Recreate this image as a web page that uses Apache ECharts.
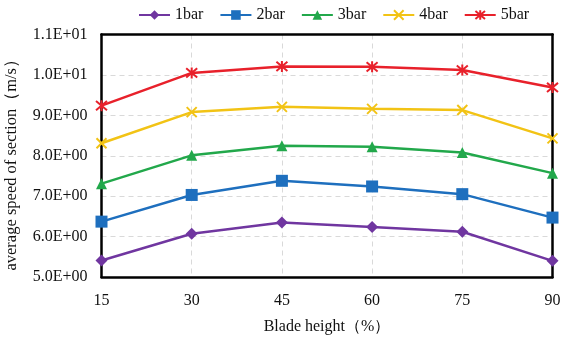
<!DOCTYPE html>
<html>
<head>
<meta charset="utf-8">
<script src="https://cdn.jsdelivr.net/npm/echarts@6/dist/echarts.min.js"></script>
<style>
html,body{margin:0;padding:0;background:#fff;}
#c{width:566px;height:337px;}
</style>
</head>
<body>
<div id="c"></div>
<script>
const categories = ['15', '30', '45', '60', '75', '90'];
const seriesNames = ['1bar', '2bar', '3bar', '4bar', '5bar'];
const bar1 = [5.41, 6.07, 6.35, 6.24, 6.12, 5.40];
const bar2 = [6.37, 7.03, 7.38, 7.24, 7.05, 6.47];
const bar3 = [7.31, 8.01, 8.25, 8.22, 8.08, 7.57];
const bar4 = [8.31, 9.08, 9.21, 9.16, 9.13, 8.43];
const bar5 = [9.24, 10.05, 10.21, 10.20, 10.12, 9.69];
const yTickLabels = ['5.0E+00', '6.0E+00', '7.0E+00', '8.0E+00', '9.0E+00', '1.0E+01', '1.1E+01'];
const xTitle = 'Blade height（%）';
const yTitle = 'average speed of section（m/s）';

const colors = ['#7036A0', '#1E6FBE', '#22A84B', '#F2C315', '#E8212B'];
const symbols = [
  'diamond',
  'rect',
  'triangle',
  'path://M0 0L10 10M10 0L0 10',
  'path://M0 0L10 10M10 0L0 10M5 -1L5 11'
];
const sizes = [12, 12, 11, 10, 11];
const data = [bar1, bar2, bar3, bar4, bar5];
const font = 'Liberation Serif';
const txt = '#111';

const chart = echarts.init(document.getElementById('c'), null, {renderer: 'canvas'});
const frameAxis = {
  axisLine: {show: true, lineStyle: {color: '#000', width: 2.5}},
  axisTick: {show: false},
  axisLabel: {show: false},
  splitLine: {show: false}
};
chart.setOption({
  animation: false,
  backgroundColor: '#fff',
  textStyle: {fontFamily: font, color: txt},
  legend: {
    top: 2,
    left: 133,
    itemWidth: 31,
    itemHeight: 12,
    itemGap: 16,
    textStyle: {fontFamily: font, fontSize: 16, color: txt},
    data: seriesNames
  },
  grid: {
    left: 101.5, right: 13.5, top: 34.5, bottom: 60,
    show: false, containLabel: false, outerBoundsMode: 'none'
  },
  xAxis: [{
    type: 'category',
    data: categories,
    boundaryGap: false,
    name: xTitle,
    nameLocation: 'middle',
    nameGap: 42,
    nameTextStyle: {fontFamily: font, fontSize: 16, color: txt},
    axisLine: {show: true, lineStyle: {color: '#000', width: 2.5}},
    axisTick: {show: false},
    axisLabel: {margin: 16, fontFamily: font, fontSize: 16, color: txt},
    splitLine: {show: true, lineStyle: {color: '#d9d9d9', type: [5, 4], width: 1}}
  }, Object.assign({
    type: 'category', data: categories, boundaryGap: false, position: 'top'
  }, frameAxis)],
  yAxis: [{
    type: 'value',
    min: 5, max: 11, interval: 1,
    name: yTitle,
    nameLocation: 'middle',
    nameGap: 81,
    nameRotate: 90,
    nameTextStyle: {fontFamily: font, fontSize: 16.5, color: txt, padding: [0, 10, 0, 0]},
    axisLine: {show: true, lineStyle: {color: '#000', width: 2.5}},
    axisTick: {show: false},
    axisLabel: {
      margin: 14, fontFamily: font, fontSize: 16, color: txt,
      formatter: (v, i) => yTickLabels[i]
    },
    splitLine: {show: true, lineStyle: {color: '#d9d9d9', type: [5, 4], width: 1}}
  }, Object.assign({
    type: 'value', min: 5, max: 11, interval: 1, position: 'right'
  }, frameAxis)],
  series: seriesNames.map((n, i) => ({
    name: n,
    type: 'line',
    data: data[i],
    symbol: symbols[i],
    symbolSize: sizes[i],
    showAllSymbol: true,
    z: 3,
    color: colors[i],
    lineStyle: {color: colors[i], width: 2.5},
    itemStyle: {color: colors[i], borderColor: colors[i], borderWidth: i >= 3 ? 2 : 0}
  }))
});
</script>
</body>
</html>
